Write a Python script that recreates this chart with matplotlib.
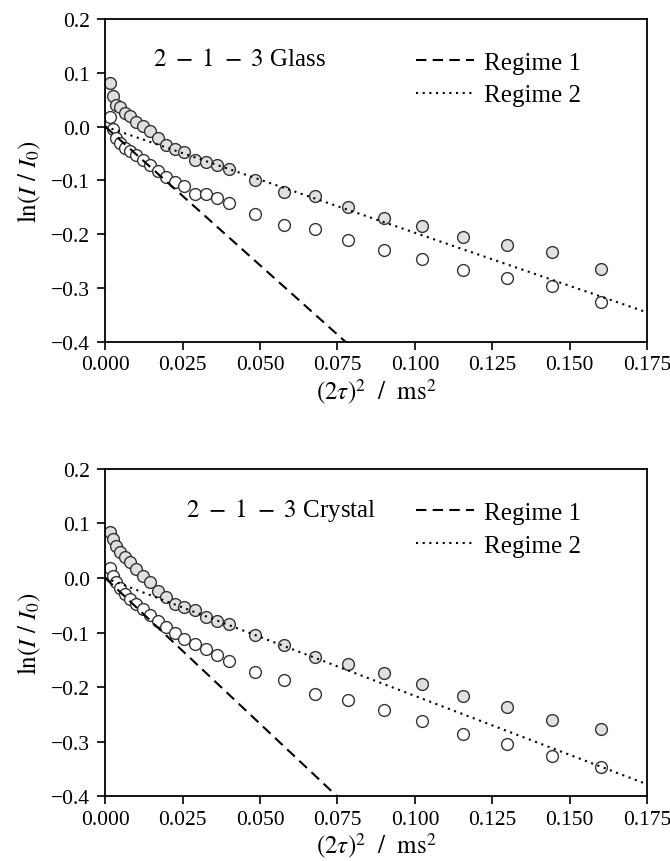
import numpy as np
import matplotlib
matplotlib.use("Agg")
import matplotlib.pyplot as plt

plt.rcParams['font.family'] = ['Liberation Serif', 'DejaVu Serif']
plt.rcParams['mathtext.fontset'] = 'stix'

# (2 tau)^2 in ms^2
tau2 = [0.0016, 0.0025, 0.0036, 0.0049, 0.0064, 0.0081, 0.0100, 0.0121, 0.0144,
        0.0169, 0.0196, 0.0225, 0.0256, 0.0289, 0.0324, 0.0361, 0.0400,
        0.0484, 0.0576, 0.0676, 0.0784, 0.0900, 0.1024, 0.1156, 0.1296, 0.1444, 0.1600]

# 2-1-3 glass
glass_filled = [0.080, 0.057, 0.040, 0.037, 0.026, 0.019, 0.009, 0.001, -0.009,
                -0.022, -0.034, -0.041, -0.047, -0.062, -0.065, -0.072, -0.079,
                -0.100, -0.122, -0.128, -0.149, -0.170, -0.184, -0.205, -0.220, -0.232, -0.264]
glass_open = [0.017, -0.005, -0.021, -0.031, -0.039, -0.046, -0.053, -0.062, -0.071,
              -0.082, -0.094, -0.102, -0.110, -0.125, -0.125, -0.133, -0.141,
              -0.162, -0.183, -0.190, -0.210, -0.230, -0.246, -0.267, -0.281, -0.295, -0.326]

# 2-1-3 crystal
crystal_filled = [0.084, 0.072, 0.059, 0.047, 0.038, 0.029, 0.017, 0.004, -0.008,
                  -0.023, -0.035, -0.048, -0.054, -0.059, -0.071, -0.078, -0.084,
                  -0.105, -0.123, -0.144, -0.157, -0.174, -0.194, -0.217, -0.236, -0.261, -0.277]
crystal_open = [0.018, 0.004, -0.008, -0.019, -0.029, -0.039, -0.048, -0.057, -0.068,
                -0.078, -0.090, -0.100, -0.111, -0.121, -0.131, -0.142, -0.152,
                -0.172, -0.187, -0.212, -0.224, -0.242, -0.262, -0.285, -0.305, -0.327, -0.346]

# fitted regime lines (end points)
line_x = [0.0, 0.175]
glass_regime1 = [0.0, -0.901]
glass_regime2 = [0.0, -0.345]
crystal_regime1 = [0.0, -0.935]
crystal_regime2 = [0.0, -0.378]

xticks = [0.000, 0.025, 0.050, 0.075, 0.100, 0.125, 0.150, 0.175]
yticks = [-0.4, -0.3, -0.2, -0.1, 0.0, 0.1, 0.2]

fig = plt.figure(figsize=(6.7, 8.62), dpi=100)
ax1 = fig.add_axes([0.157, 0.602, 0.809, 0.375])
ax2 = fig.add_axes([0.157, 0.075, 0.809, 0.380])

panels = [
    (ax1, glass_filled, glass_open, glass_regime1, glass_regime2, r'$2\ -\ 1\ -\ 3$ Glass', 0.089),
    (ax2, crystal_filled, crystal_open, crystal_regime1, crystal_regime2, r'$2\ -\ 1\ -\ 3$ Crystal', 0.149),
]

for ax, filled, opn, r1, r2, title, tx in panels:
    ax.plot(line_x, r1, ls=(0, (5, 3)), color='black', lw=1.5, label='Regime 1')
    ax.plot(line_x, r2, ls=(0, (1, 2.2)), color='black', lw=1.5, label='Regime 2')
    ax.plot(tau2, opn, 'o', ms=8.5, mfc='white', mec='#333333', mew=1.0, zorder=1)
    ax.plot(tau2, filled, 'o', ms=8.5, mfc='#e0e0e0', mec='#333333', mew=1.0, zorder=1)
    ax.set_xlim(0, 0.175)
    ax.set_ylim(-0.4, 0.2)
    ax.set_xticks(xticks)
    ax.set_xticklabels(['%.3f' % v for v in xticks])
    ax.set_yticks(yticks)
    ax.set_yticklabels(['%.1f' % v if v >= 0 else '\u2212%.1f' % -v for v in yticks])
    ax.tick_params(labelsize=15.5, direction='out', length=6, width=1.2)
    ax.tick_params(axis='y', pad=5)
    for s in ax.spines.values():
        s.set_linewidth(1.3)
    ax.set_xlabel(r'$(2\tau)^2\ \ /\ \ \mathrm{ms}^2$', fontsize=18, labelpad=2)
    ax.set_ylabel(r'$\mathrm{ln}(I\ /\ I_0)$', fontsize=18, labelpad=6)
    ax.text(tx, 0.875, title, transform=ax.transAxes, fontsize=18, va='center', ha='left')
    ax.legend(loc='upper left', bbox_to_anchor=(0.555, 0.93), borderaxespad=0,
              frameon=False, fontsize=18, handlelength=2.3, labelspacing=0.4,
              handletextpad=0.4)

fig.savefig('out.png', dpi=100)
